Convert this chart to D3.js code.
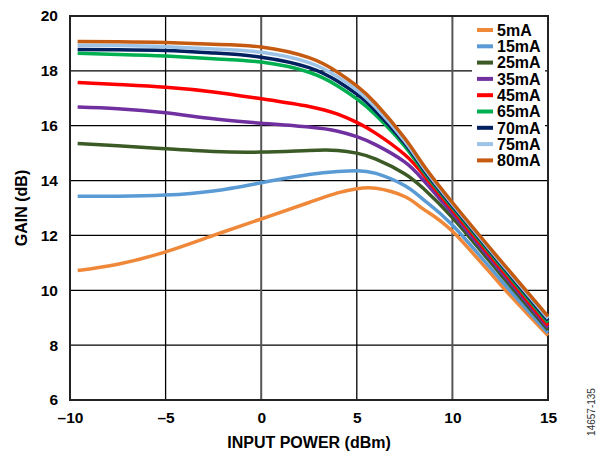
<!DOCTYPE html>
<html>
<head>
<meta charset="utf-8">
<script src="https://cdn.jsdelivr.net/npm/d3@7"></script>
<style>
  body { margin: 0; background: #fff; }
  text { font-family: 'Liberation Sans', Arial, sans-serif; }
</style>
</head>
<body>
<div id="chart"></div>
<script>
const inputPower = [-9.6, -7.5, -5, -2.5, 0, 2.5, 4, 5, 6, 7.5, 8.5, 10, 12.5, 15]

const seriesNames = ['5mA', '15mA', '25mA', '35mA', '45mA', '65mA', '70mA', '75mA', '80mA']
const seriesColors = ['#f0883a', '#5b9bd5', '#3b5a25', '#7030a0', '#ff0000', '#00b050', '#002060', '#9dc3e6', '#c55a11']

const gain5 = [10.72, 10.95, 11.4, 12.0, 12.6, 13.2, 13.55, 13.7, 13.72, 13.42, 12.95, 12.15, 10.22, 8.35]
const gain15 = [13.43, 13.43, 13.47, 13.62, 13.92, 14.22, 14.33, 14.36, 14.26, 13.82, 13.3, 12.38, 10.4, 8.45]
const gain25 = [15.35, 15.27, 15.16, 15.06, 15.04, 15.1, 15.1, 15.0, 14.78, 14.25, 13.7, 12.65, 10.6, 8.56]
const gain35 = [16.68, 16.62, 16.47, 16.25, 16.09, 15.95, 15.8, 15.6, 15.3, 14.68, 14.0, 12.8, 10.72, 8.64]
const gain45 = [17.58, 17.5, 17.4, 17.23, 16.98, 16.7, 16.42, 16.12, 15.72, 14.95, 14.2, 12.92, 10.82, 8.72]
const gain65 = [18.64, 18.6, 18.54, 18.44, 18.32, 17.95, 17.45, 16.98, 16.38, 15.26, 14.32, 13.02, 10.92, 8.83]
const gain70 = [18.78, 18.77, 18.74, 18.65, 18.5, 18.12, 17.62, 17.15, 16.53, 15.36, 14.4, 13.08, 10.98, 8.9]
const gain75 = [18.93, 18.92, 18.88, 18.8, 18.68, 18.3, 17.78, 17.3, 16.66, 15.45, 14.47, 13.14, 11.04, 8.97]
const gain80 = [19.07, 19.06, 19.03, 18.97, 18.87, 18.48, 17.95, 17.45, 16.8, 15.55, 14.55, 13.2, 11.1, 9.05]

const allGains = [gain5, gain15, gain25, gain35, gain45, gain65, gain70, gain75, gain80]

const xTicks = [-10, -5, 0, 5, 10, 15]
const yTicks = [6, 8, 10, 12, 14, 16, 18, 20]

const margin = { top: 16, left: 70, right: 56, bottom: 52 }
const width = 604 - margin.left - margin.right
const height = 452 - margin.top - margin.bottom

const svg = d3
  .select('#chart')
  .append('svg')
  .attr('width', 604)
  .attr('height', 452)

const g = svg
  .append('g')
  .attr('transform', 'translate(' + margin.left + ',' + margin.top + ')')

const x = d3.scaleLinear().domain([-10, 15]).range([0, width])
const y = d3.scaleLinear().domain([6, 20]).range([height, 0])

// grid
g.selectAll('.hgrid')
  .data(yTicks)
  .enter()
  .append('line')
  .attr('x1', 0)
  .attr('x2', width)
  .attr('y1', d => y(d))
  .attr('y2', d => y(d))
  .attr('stroke', '#000')
  .attr('stroke-width', 1.3)

g.selectAll('.vgrid')
  .data(xTicks)
  .enter()
  .append('line')
  .attr('x1', d => x(d))
  .attr('x2', d => x(d))
  .attr('y1', 0)
  .attr('y2', height)
  .attr('stroke', d => (d === 0 || d === 10 ? '#555' : '#000'))
  .attr('stroke-width', d => (d === 0 || d === 10 ? 2 : 1.3))

g.append('rect')
  .attr('x', 0)
  .attr('y', 0)
  .attr('width', width)
  .attr('height', height)
  .attr('fill', 'none')
  .attr('stroke', '#222')
  .attr('stroke-width', 2)

// axes labels
const xAxis = g
  .append('g')
  .attr('transform', `translate(0,${height})`)
  .call(d3.axisBottom(x).tickValues(xTicks).tickSize(0).tickPadding(12).tickFormat(d => String(d).replace('-', '\u2013')))
xAxis.select('.domain').remove()
xAxis.selectAll('text')
  .attr('fill', '#000')
  .style('font-size', '15.5px')
  .style('font-weight', 'bold')

const yAxis = g
  .append('g')
  .call(d3.axisLeft(y).tickValues(yTicks).tickSize(0).tickPadding(12))
yAxis.select('.domain').remove()
yAxis.selectAll('text')
  .attr('fill', '#000')
  .style('font-size', '15.5px')
  .style('font-weight', 'bold')

// curves
const line = d3
  .line()
  .x(d => x(d[0]))
  .y(d => y(d[1]))
  .curve(d3.curveNatural)

g.selectAll('.curve')
  .data(allGains)
  .enter()
  .append('path')
  .attr('class', 'curve')
  .attr('d', d => line(d.map((v, i) => [inputPower[i], v])))
  .attr('fill', 'none')
  .attr('stroke', (d, i) => seriesColors[i])
  .attr('stroke-width', 3.5)
  .attr('stroke-linejoin', 'round')

// legend
g.append('rect')
  .attr('x', 402)
  .attr('y', 4)
  .attr('width', 73)
  .attr('height', 150)
  .attr('fill', '#fff')

const legend = g.append('g').attr('transform', 'translate(407, 14)')

legend
  .selectAll('.legend')
  .data(seriesNames)
  .enter()
  .append('g')
  .attr('class', 'legend')
  .attr('transform', (d, i) => `translate(0,${i * 16.3})`)
  .each(function(d, i) {
    const row = d3.select(this)
    row.append('line')
      .attr('x1', 0)
      .attr('x2', 16)
      .attr('stroke', seriesColors[i])
      .attr('stroke-width', 4)
    row.append('text')
      .text(d)
      .attr('x', 20)
      .attr('dy', '0.36em')
      .style('font-size', '16px')
      .style('font-weight', 'bold')
  })

// titles
svg.append('text')
  .text('INPUT POWER (dBm)')
  .attr('x', margin.left + width / 2)
  .attr('y', 448)
  .attr('text-anchor', 'middle')
  .style('font-size', '16px')
  .style('font-weight', 'bold')

svg.append('text')
  .text('GAIN (dB)')
  .attr('transform', `translate(27,${margin.top + height / 2}) rotate(-90)`)
  .attr('text-anchor', 'middle')
  .style('font-size', '16px')
  .style('font-weight', 'bold')

svg.append('text')
  .text('14657-135')
  .attr('transform', 'translate(595,412) rotate(-90)')
  .attr('text-anchor', 'middle')
  .attr('fill', '#333')
  .style('font-size', '10px')
</script>
</body>
</html>
